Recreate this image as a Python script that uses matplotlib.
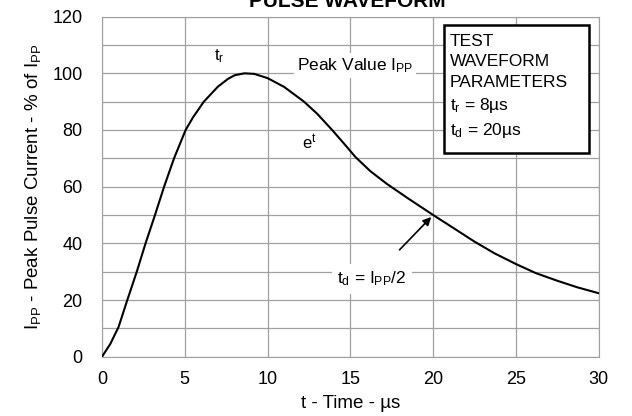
import matplotlib.pyplot as plt
from matplotlib.patches import Rectangle

plt.rcParams['font.family'] = ['Liberation Sans', 'DejaVu Sans']
plt.rcParams['mathtext.default'] = 'regular'

# curve
t_us = [0, 0.5, 1.0, 1.5, 2.1, 2.63, 3.2, 3.75, 4.35, 5.05, 5.5, 6.15, 7.0, 7.6, 8.0,
        8.6, 9.2, 10, 11, 12.2, 13, 13.9, 14.6, 15.3, 16.2, 17.2, 18.5, 20, 21.2,
        22.5, 23.7, 25, 26.2, 27.5, 28.7, 30]
current_pct = [0, 4.5, 10.5, 19.5, 30, 40, 50, 60, 70, 80, 84.5, 90, 95.3, 98, 99.3,
               100, 99.8, 98.3, 95.2, 90, 85.7, 80, 75.3, 70.5, 65.5, 61, 55.8, 50, 45.5,
               40.6, 36.5, 32.7, 29.5, 26.8, 24.5, 22.4]

x_ticks = [0, 5, 10, 15, 20, 25, 30]
y_ticks = [0, 20, 40, 60, 80, 100, 120]
box_lines = ['TEST', 'WAVEFORM', 'PARAMETERS', r't$_r$ = 8µs', r't$_d$ = 20µs']

fig = plt.figure(figsize=(6.32, 4.16), dpi=100)
ax = fig.add_axes([0.1614, 0.1425, 0.786, 0.8175])

ax.plot(t_us, current_pct, color='black', lw=1.5, zorder=3)

ax.set_xlim(0, 30)
ax.set_ylim(0, 120)
ax.set_xticks(x_ticks)
ax.set_yticks(y_ticks)
ax.set_yticks(range(0, 121, 10), minor=True)
ax.grid(True, which='both', color='#a0a0a0', lw=0.9)
ax.tick_params(which='both', length=0, labelsize=13)
ax.tick_params(axis='y', pad=14)
ax.tick_params(axis='x', pad=10)
for s in ax.spines.values():
    s.set_color('#a0a0a0')

ax.set_xlabel('t - Time - µs', fontsize=13.5, labelpad=5)
ax.set_ylabel(r'I$_{PP}$ - Peak Pulse Current - % of I$_{PP}$', fontsize=13.5,
              labelpad=7)

fig.text(0.549, 0.983, 'PULSE WAVEFORM', ha='center', va='baseline',
         fontsize=15, fontweight='bold')

ax.text(7.1, 106, r't$_r$', fontsize=12, ha='center', va='center')
ax.text(15.3, 102.8, r'Peak Value I$_{PP}$', fontsize=12.5, ha='center', va='center',
        bbox=dict(facecolor='white', edgecolor='none', pad=2), zorder=4)
ax.text(12.5, 75.5, r'e$^{t}$', fontsize=12, ha='center', va='center')
ax.text(16.3, 27.5, r't$_d$ = I$_{PP}$/2', fontsize=12.5, ha='center', va='center',
        bbox=dict(facecolor='white', edgecolor='none', pad=4), zorder=4)
ax.annotate('', xy=(20, 50), xytext=(17.85, 37),
            arrowprops=dict(arrowstyle='-|>', color='black', lw=1.2,
                            mutation_scale=12), zorder=5)

ax.add_patch(Rectangle((20.63, 71.8), 8.76, 45.2, facecolor='white',
                       edgecolor='black', lw=1.8, zorder=6))
ax.text(21.0, 113.8, '\n'.join(box_lines), fontsize=12.5, ha='left', va='top',
        linespacing=1.43, zorder=7)

fig.savefig('out.png', dpi=100)
